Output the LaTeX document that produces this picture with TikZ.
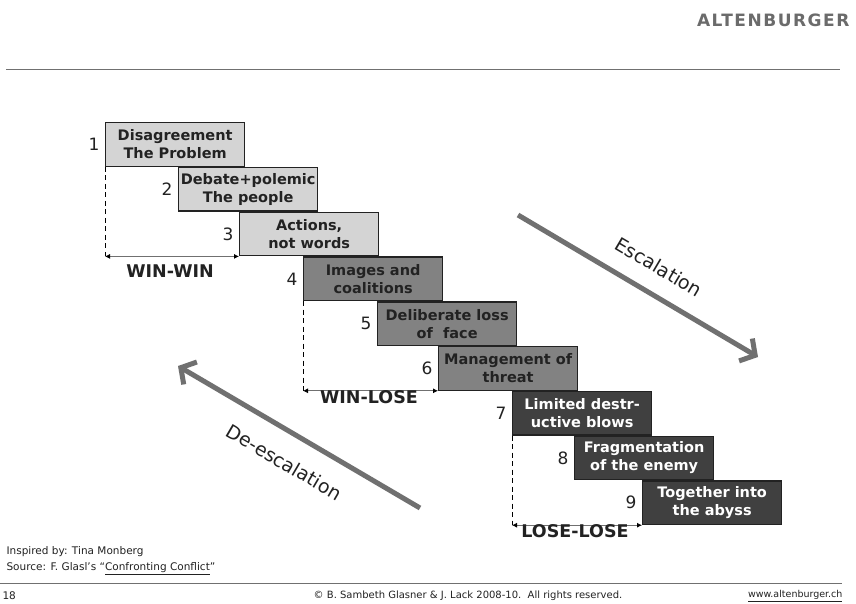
\documentclass[tikz,border=0pt]{standalone}
\usepackage{fontspec}
\setmainfont{DejaVu Sans}
\usepackage{xcolor}
\usetikzlibrary{positioning, arrows.meta}

\definecolor{stepLight}{HTML}{D4D4D4}
\definecolor{stepMid}{HTML}{828282}
\definecolor{stepDark}{HTML}{404040}
\definecolor{arrowGray}{HTML}{707070}
\definecolor{textDark}{HTML}{222222}

\tikzset{
  stepbox/.style={draw=textDark, line width=1.3pt, rectangle, anchor=north west,
    minimum width=139pt, minimum height=43.5pt, inner sep=0pt, align=center,
    text=textDark, font=\bfseries\fontsize{14.5}{18}\selectfont},
  lightbox/.style={stepbox, fill=stepLight},
  midbox/.style={stepbox, fill=stepMid},
  darkbox/.style={stepbox, fill=stepDark, text=white},
  numlbl/.style={font=\fontsize{17}{19}\selectfont, text=textDark, label distance=2pt},
  phase/.style={font=\bfseries\fontsize{17.5}{20}\selectfont, text=textDark},
  span/.style={draw=arrowGray, line width=0.8pt, {Latex[black,length=5pt,width=5pt]}-{Latex[black,length=5pt,width=5pt]}},
  guide/.style={draw=black, line width=0.9pt, dash pattern=on 5pt off 3.5pt},
  bigarrow/.style={draw=arrowGray, line width=5pt, -{Straight Barb[length=11pt,width=26pt,line width=5pt]}},
  arrowlbl/.style={font=\fontsize{19}{21}\selectfont, text=textDark},
  footer/.style={font=\fontsize{10.5}{12}\selectfont, text=textDark}
}

\begin{document}
\begin{tikzpicture}[x=1pt, y=-1pt]
        \useasboundingbox[fill=white] (0,0) rectangle (856,603);
        % Header
        \node[font=\bfseries\fontsize{17}{19}\selectfont\addfontfeatures{LetterSpace=9}, text=black!58, anchor=east] (brand) at (853,20) {ALTENBURGER};
        \coordinate (hl) at (6,69);
        \coordinate (hr) at (840,69);
        \draw[arrowGray, line width=0.9pt] (hl) -- (hr);
        % Steps
        \node[lightbox, label={[numlbl]left:1}] (s1) at (105,122) {Disagreement\\The Problem};
        \node[lightbox, label={[numlbl]left:2}] (s2) at ([xshift=73pt]s1.south west) {Debate+polemic\\The people};
        \node[lightbox, label={[numlbl]left:3}] (s3) at ([xshift=61pt]s2.south west) {Actions,\\not words};
        \node[midbox, label={[numlbl]left:4}] (s4) at ([xshift=64pt]s3.south west) {Images and\\coalitions};
        \node[midbox, label={[numlbl]left:5}] (s5) at ([xshift=74pt]s4.south west) {Deliberate loss\\of\ \ face};
        \node[midbox, label={[numlbl]left:6}] (s6) at ([xshift=61pt]s5.south west) {Management of\\threat};
        \node[darkbox, label={[numlbl]left:7}] (s7) at ([xshift=74pt]s6.south west) {Limited destr-\\uctive blows};
        \node[darkbox, label={[numlbl]left:8}] (s8) at ([xshift=62pt]s7.south west) {Fragmentation\\of the enemy};
        \node[darkbox, label={[numlbl]left:9}] (s9) at ([xshift=68pt]s8.south west) {Together into\\the abyss};
        % Phases
        \coordinate (ww) at (s1.south west |- s3.south west);
        \coordinate (wl) at (s4.south west |- s6.south west);
        \coordinate (ll) at (s7.south west |- s9.south west);
        \draw[guide] (s1.south west) -- (ww);
        \draw[span] (ww) -- (s3.south west);
        \draw[guide] (s4.south west) -- (wl);
        \draw[span] (wl) -- (s6.south west);
        \draw[guide] (s7.south west) -- (ll);
        \draw[span] (ll) -- (s9.south west);
        \node[phase] (winwin) at (170,271) {WIN-WIN};
        \node[phase] (winlose) at (369,397) {WIN-LOSE};
        \node[phase] (loselose) at (575,531) {LOSE-LOSE};
        % Escalation arrows
        \coordinate (esc1) at (518,215);
        \coordinate (esc2) at (758,357);
        \coordinate (desc1) at (420,508);
        \coordinate (desc2) at (178,366);
        \draw[bigarrow] (esc1) -- (esc2) node[pos=0.53, sloped, above=14pt, arrowlbl] (esclbl) {Escalation};
        \draw[bigarrow] (desc1) -- (desc2) node[pos=0.5, sloped, below=16pt, arrowlbl] (desclbl) {De-escalation};
        % Footer
        \node[footer, anchor=west] (insp) at (3,552) {Inspired by: Tina Monberg};
        \node[footer, anchor=west] (src) at (3,569) {Source: F. Glasl's “\underline{Confronting Conflict}”};
        \coordinate (fl) at (0,583);
        \coordinate (fr) at (842,583);
        \draw[arrowGray, line width=0.9pt] (fl) -- (fr);
        \node[footer, anchor=west] (page) at (-1,596) {18};
        \node[footer, font=\fontsize{10}{12}\selectfont] (copy) at (468,596) {© B. Sambeth Glasner \& J. Lack 2008-10.\ \ All rights reserved.};
        \node[footer, font=\fontsize{9.5}{12}\selectfont, anchor=east] (url) at (846,596) {\underline{www.altenburger.ch}};
    \end{tikzpicture}
\end{document}
